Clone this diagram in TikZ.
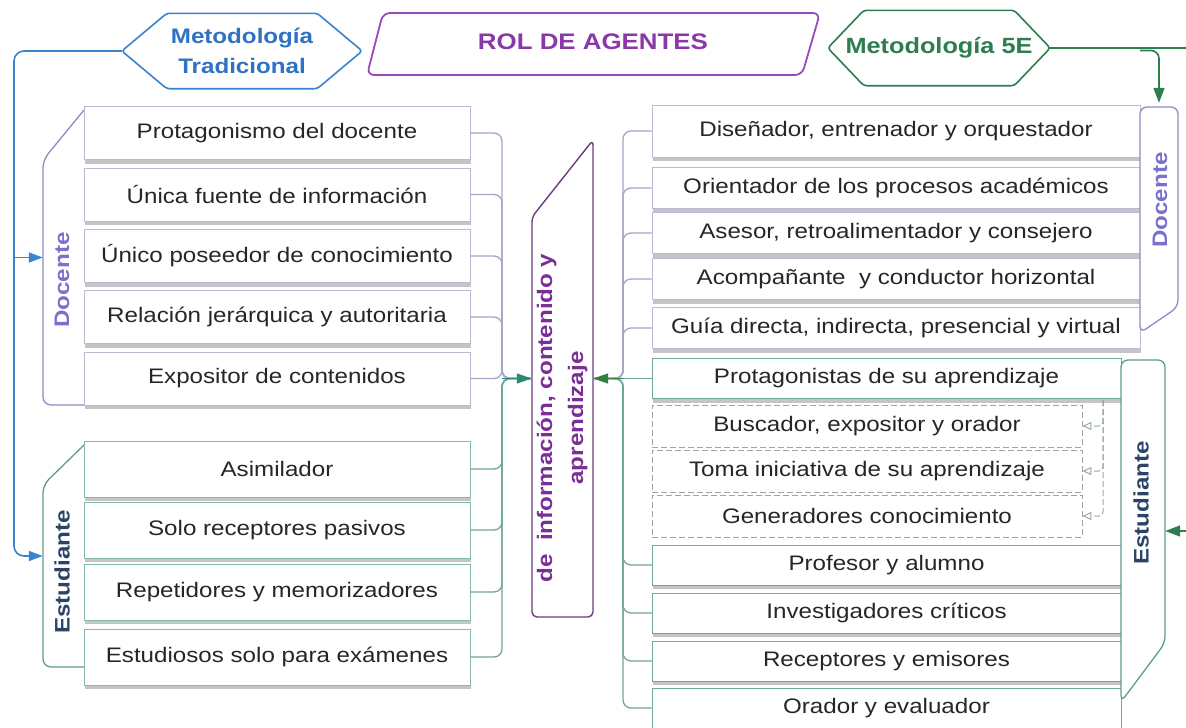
\documentclass[tikz,border=0pt]{standalone}
\usepackage{fontspec}
\setmainfont{Liberation Sans}[FakeStretch=1.15]
\usetikzlibrary{arrows.meta,shadows,calc}
\definecolor{tblue}{HTML}{3A84CF}
\definecolor{tbluet}{HTML}{2F72C4}
\definecolor{rolp}{HTML}{9B48BA}
\definecolor{rolt}{HTML}{8A37A8}
\definecolor{gfive}{HTML}{2E7D4F}
\definecolor{lavt}{HTML}{7A70CF}
\definecolor{lavb}{HTML}{BCB9D4}
\definecolor{lavl}{HTML}{A7A3C9}
\definecolor{lavtag}{HTML}{8F8BC0}
\definecolor{tealb}{HTML}{86B9AB}
\definecolor{teall}{HTML}{6FA797}
\definecolor{tealtag}{HTML}{5E9E8C}
\definecolor{tealr}{HTML}{6FA894}
\definecolor{navy}{HTML}{2A4468}
\definecolor{cenp}{HTML}{6C3C7E}
\definecolor{cent}{HTML}{7A2E96}
\definecolor{arrt}{HTML}{2A8A72}
\definecolor{arrg}{HTML}{2F7F45}
\definecolor{dashc}{HTML}{9AA8A4}
\begin{document}
\begin{tikzpicture}[x=1pt,y=-1pt,
  txt/.style={font=\fontsize{21}{25}\selectfont, text=black!85},
  bx/.style={txt, draw, fill=white, line width=0.9pt, inner sep=0pt,
    drop shadow={shadow xshift=0.5pt, shadow yshift=-4pt, opacity=0.45}},
  ldb/.style={bx, draw=lavb, minimum width=386, minimum height=53},
  leb/.style={bx, draw=tealb, minimum width=386, minimum height=56},
  rdb/.style={bx, draw=lavb, minimum width=488, minimum height=41},
  reb/.style={bx, draw=tealr, minimum width=469, minimum height=40},
  dxb/.style={txt, draw=dashc, dash pattern=on 6pt off 3pt, fill=white, line width=0.9pt,
    inner sep=0pt, minimum width=430, minimum height=42},
  holder/.style={draw=none, inner sep=0pt},
  tagtxt/.style={font=\bfseries\fontsize{21}{25}\selectfont, rotate=90},
  lavline/.style={draw=lavl, line width=1.3pt, rounded corners=8},
  tealline/.style={draw=teall, line width=1.3pt, rounded corners=8},
  arrowT/.style={draw=arrt, line width=1.3pt, -{Triangle[length=15pt,width=10pt]}},
  arrowG/.style={draw=arrg, line width=1.3pt, -{Triangle[length=15pt,width=10pt]}},
  bline/.style={draw=tblue, line width=1.6pt, -{Triangle[length=14pt,width=10pt]}},
  gline/.style={draw=gfive, line width=1.6pt, -{Triangle[length=15pt,width=11pt]}},
  dline/.style={draw=dashc, line width=1pt, dash pattern=on 6pt off 3pt, rounded corners=4,
    -{Triangle[open,length=9pt,width=8pt]}}
]
\useasboundingbox (0,0) rectangle (1186,728);
\fill[white] (0,0) rectangle (1186,728);

% ---------- header ----------
\node[holder, minimum width=240, minimum height=75, align=center,
  font=\bfseries\fontsize{21}{30}\selectfont, text=tbluet] (trad) at (242,51) {Metodología\\Tradicional};
\draw[tblue, line width=1.6pt, rounded corners=3]
  (trad.west) -- ($(trad.north west)+(45,0)$) -- ($(trad.north east)+(-45,0)$) -- (trad.east)
  -- ($(trad.south east)+(-45,0)$) -- ($(trad.south west)+(45,0)$) -- cycle;

\node[holder, minimum width=430, minimum height=62,
  font=\bfseries\fontsize{22.5}{26}\selectfont, text=rolt] (rol) at (593,42) {ROL DE AGENTES};
\draw[rolp, line width=1.8pt, rounded corners=7]
  (383,13) -- (820,13) -- (802,75) -- (367,75) -- cycle;

\node[holder, minimum width=222, minimum height=75,
  font=\bfseries\fontsize{22}{26}\selectfont, text=gfive] (fe) at (939,48) {Metodología 5E};
\draw[gfive, line width=1.6pt, rounded corners=3]
  (fe.west) -- ($(fe.north west)+(36,0)$) -- ($(fe.north east)+(-36,0)$) -- (fe.east)
  -- ($(fe.south east)+(-36,0)$) -- ($(fe.south west)+(36,0)$) -- cycle;

% ---------- left tags ----------
\node[holder, minimum width=41, minimum height=295] (ldoc) at (63.5,257.5) {};
\path[fill=white] (84,110) -- (43,160) -- (43,405) -- (84,405) -- cycle;
\draw[lavtag, line width=1.3pt, rounded corners=8] (84,110) -- (43,160) -- (43,405) -- (86,405);
\node[tagtxt, text=lavt] at (62,280) {Docente};

\node[holder, minimum width=41, minimum height=222] (lest) at (63.5,556) {};
\path[fill=white] (84,445) -- (43,485) -- (43,667) -- (84,667) -- cycle;
\draw[tealtag, line width=1.3pt, rounded corners=8] (84,445) -- (43,485) -- (43,667) -- (86,667);
\node[tagtxt, text=navy] at (62,572) {Estudiante};

% ---------- left boxes ----------
\node[ldb] (ld1) at (277,133) {Protagonismo del docente};
\node[ldb] (ld2) at (277,194.5) {Única fuente de información};
\node[ldb] (ld3) at (277,256) {Único poseedor de conocimiento};
\node[ldb] (ld4) at (277,317) {Relación jerárquica y autoritaria};
\node[ldb] (ld5) at (277,378.5) {Expositor de contenidos};

\node[leb] (le1) at (277,469) {Asimilador};
\node[leb] (le2) at (277,530) {Solo receptores pasivos};
\node[leb] (le3) at (277,592) {Repetidores y memorizadores};
\node[leb] (le4) at (277,657) {Estudiosos solo para exámenes};

% ---------- central box ----------
\node[holder, minimum width=61, minimum height=477] (cen) at (562.5,378.5) {};
\draw[cenp, line width=1.4pt, rounded corners=5, fill=white]
  (532,217) -- (593,140) -- (593,617) -- (532,617) -- cycle;
\node[rotate=90, align=center, font=\bfseries\fontsize{21}{31}\selectfont, text=cent]
  (centxt) at (562,418) {de\ \ información, contenido y\\aprendizaje};

% ---------- right Docente boxes ----------
\node[rdb, minimum height=52] (rd1) at (896,131) {Diseñador, entrenador y orquestador};
\node[rdb] (rd2) at (896,188) {Orientador de los procesos académicos};
\node[rdb] (rd3) at (896,233) {Asesor, retroalimentador y consejero};
\node[rdb] (rd4) at (896,279) {Acompañante\ \ y conductor horizontal};
\node[rdb] (rd5) at (896,328) {Guía directa, indirecta, presencial y virtual};

% ---------- right Estudiante boxes ----------
\node[reb] (prot) at (886.5,378.5) {Protagonistas de su aprendizaje};
\node[dxb] (dx1) at (867,426) {Buscador, expositor y orador};
\node[dxb] (dx2) at (867,471) {Toma iniciativa de su aprendizaje};
\node[dxb] (dx3) at (867,516) {Generadores conocimiento};
\node[reb] (re1) at (886.5,565) {Profesor y alumno};
\node[reb] (re2) at (886.5,613) {Investigadores críticos};
\node[reb] (re3) at (886.5,661) {Receptores y emisores};
\node[reb] (re4) at (886.5,708) {Orador y evaluador};

% ---------- right tags ----------
\node[holder, minimum width=38, minimum height=226] (rdoc) at (1159,220) {};
\draw[lavtag, line width=1.3pt, rounded corners=7, fill=white]
  (1140,333) -- (1140,107) -- (1178,107) -- (1178,307) -- cycle;
\node[tagtxt, text=lavt] at (1160,200) {Docente};

\node[holder, minimum width=44, minimum height=342] (rest) at (1143,531) {};
\draw[tealtag, line width=1.3pt, rounded corners=7, fill=white]
  (1121,702) -- (1121,360) -- (1165,360) -- (1165,643) -- cycle;
\node[tagtxt, text=navy] at (1141,503) {Estudiante};

% ---------- connectors ----------
\coordinate (jL) at (502,378.5);
\coordinate (jR) at (623,378.5);
\foreach \n in {ld1,ld2,ld3,ld4,ld5}{\draw[lavline] (\n.east) -| (jL) -- (cen.west);}
\foreach \n in {le1,le2,le3,le4}{\draw[tealline] (\n.east) -| (jL) -- (cen.west);}
\draw[arrowT] (jL) -- (cen.west);

\foreach \n in {rd1,rd2,rd3,rd4,rd5}{\draw[lavline] (\n.west) -| (jR) -- (cen.east);}
\foreach \n in {re1,re2,re3,re4}{\draw[tealline] (\n.west) -| (jR) -- (cen.east);}
\draw[tealline] (prot.west) -- (cen.east);
\draw[arrowG] (jR) -- (cen.east);

\coordinate (dtop) at (1103,400);
\foreach \n in {dx1,dx2,dx3}{\draw[dline] (dtop) |- (\n.east);}

% blue
\coordinate (bl) at (14,257.5);
\draw[bline, rounded corners=10] (trad.west) -| (14,556) -- (lest.west);
\draw[bline] (bl) -- (ldoc.west);

% green
\coordinate (gb) at (1140,50.5);
\coordinate (goff) at (1200,531);
\draw[gline] (fe.east) -| (goff) -- (rest.east);
\draw[gline, rounded corners=8, shorten >=4pt] (gb) -| (rdoc.north);
\end{tikzpicture}
\end{document}
